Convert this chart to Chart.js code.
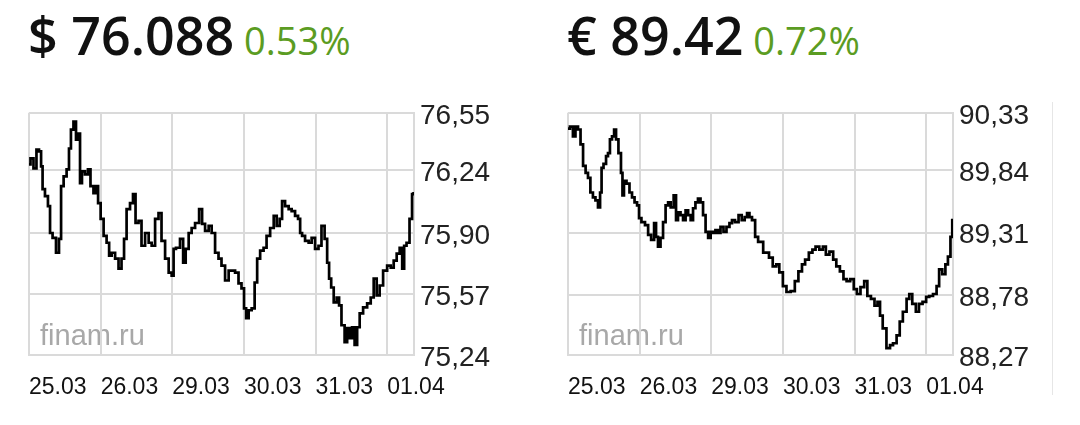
<!DOCTYPE html>
<html>
<head>
<meta charset="utf-8">
<script src="https://cdn.jsdelivr.net/npm/chart.js@4.4.1/dist/chart.umd.min.js"></script>
<style>
    body { margin: 0; background: #fff; width: 1080px; height: 425px; overflow: hidden; position: relative; }
    .head { position: absolute; top: 9px; font-family: 'Open Sans', sans-serif; font-size: 52px; line-height: 52px; font-weight: 600; color: #111; white-space: pre; }
    .head .chg { font-size: 38px; font-weight: 400; color: #5b9c22; }
    .box { position: absolute; top: 90px; width: 500px; height: 320px; }
    .sep { position: absolute; left: 1052px; top: 102px; width: 1px; height: 293px; background: #e6e6e6; }
</style>
</head>
<body>
<div class="head" style="left:28px">$ 76.088<span class="chg"> 0.53%</span></div>
<div class="head" style="left:567px">€ 89.42<span class="chg"> 0.72%</span></div>
<div class="box" style="left:0px"><canvas id="usdChart" width="500" height="320"></canvas></div>
<div class="box" style="left:539px"><canvas id="eurChart" width="500" height="320"></canvas></div>
<div class="sep"></div>
<script>
// hours since the start of 25.03 and quotes
var dayTicks = [0, 24, 48, 72, 96, 120];
var dayLabels = ['25.03', '26.03', '29.03', '30.03', '31.03', '01.04'];

var usdTicks = [75.24, 75.57, 75.90, 76.24, 76.55];
var eurTicks = [88.27, 88.78, 89.31, 89.84, 90.33];

var usdHours = [0, 1.0, 2.0, 3.0, 3.7, 4.4, 4.7, 6.0, 6.7, 7.4,
    8.4, 9.7, 10.4, 11.1, 12.1, 13.1, 13.7, 14.4, 15.4, 16.1,
    16.8, 17.4, 18.1, 19.4, 20.1, 21.1, 22.1, 22.8, 23.5, 24.5,
    25.5, 26.5, 27.2, 28.2, 29.5, 30.5, 31.5, 32.2, 33.2, 34.5,
    35.2, 36.2, 37.2, 38.2, 39.6, 40.6, 41.6, 42.9, 43.9, 44.9,
    46.3, 47.3, 48.3, 48.6, 49.9, 51.3, 52.0, 53.0, 54.0, 55.0,
    56.3, 57.7, 58.3, 59.7, 60.7, 61.7, 63.0, 64.0, 65.0, 66.4,
    67.4, 68.4, 69.7, 70.7, 71.7, 72.4, 73.1, 74.1, 75.1, 76.1,
    76.8, 78.1, 79.1, 80.1, 81.5, 82.5, 83.5, 84.5, 85.1, 86.5,
    87.5, 88.5, 89.8, 90.5, 91.2, 91.8, 93.2, 94.2, 95.2, 96.5,
    97.5, 98.5, 99.6, 100.2, 100.9, 101.6, 102.6, 103.6, 104.2, 105.2,
    106.3, 106.9, 107.9, 108.6, 109.6, 110.3, 111.3, 112.6, 114.0, 115.0,
    116.0, 117.0, 118.0, 119.3, 120.7, 121.7, 122.7, 123.7, 124.7, 125.4,
    126.0, 127.0, 128.0, 128.7, 129];
var usdRub = [76.271, 76.303, 76.249, 76.351, 76.341, 76.260, 76.137, 76.099, 76.045, 75.900,
    75.873, 75.793, 75.868, 76.153, 76.206, 76.244, 76.357, 76.459, 76.502, 76.405,
    76.437, 76.169, 76.233, 76.217, 76.244, 76.153, 76.115, 76.153, 76.061, 75.976,
    75.884, 75.847, 75.777, 75.793, 75.761, 75.707, 75.761, 75.868, 76.029, 76.061,
    76.110, 75.954, 75.965, 75.831, 75.900, 75.847, 75.831, 75.976, 76.008, 75.857,
    75.761, 75.686, 75.669, 75.814, 75.820, 75.868, 75.739, 75.814, 75.900, 75.927,
    75.954, 76.029, 75.949, 75.911, 75.938, 75.900, 75.793, 75.761, 75.723, 75.643,
    75.696, 75.696, 75.686, 75.627, 75.600, 75.492, 75.439, 75.482, 75.492, 75.632,
    75.761, 75.804, 75.820, 75.884, 75.927, 75.992, 75.938, 75.976, 76.072, 76.045,
    76.029, 76.018, 75.992, 75.976, 75.900, 75.884, 75.857, 75.847, 75.873, 75.814,
    75.831, 75.938, 75.868, 75.739, 75.653, 75.605, 75.525, 75.551, 75.508, 75.401,
    75.310, 75.385, 75.331, 75.390, 75.294, 75.390, 75.465, 75.498, 75.519, 75.551,
    75.653, 75.562, 75.616, 75.696, 75.723, 75.712, 75.750, 75.788, 75.820, 75.707,
    75.831, 75.847, 75.976, 76.110, 76.115];

var eurHours = [0, 1.3, 2.0, 3.0, 3.7, 4.7, 5.4, 6.4, 7.0, 8.0,
    8.7, 9.7, 10.4, 11.1, 11.4, 12.4, 13.1, 13.7, 14.4, 15.1,
    15.8, 16.4, 17.4, 18.1, 18.4, 19.1, 20.1, 21.1, 21.8, 22.8,
    23.5, 24.1, 25.1, 26.5, 27.2, 28.5, 29.2, 29.8, 30.5, 31.5,
    32.2, 33.2, 33.9, 34.9, 35.9, 36.5, 37.2, 38.2, 38.9, 39.9,
    40.6, 41.6, 42.2, 43.2, 43.9, 44.9, 45.6, 46.6, 47.3, 48.3,
    48.9, 49.9, 50.6, 51.6, 52.6, 53.6, 54.6, 55.3, 56.6, 57.7,
    58.7, 59.7, 60.3, 61.3, 62.0, 63.4, 64.0,
    66.8, 67.9, 69.3, 70.3, 71.3, 72.7, 73.7, 75.5, 76.5, 77.9,
    78.9, 80.0, 81.4, 82.4, 83.5, 84.9, 85.9, 86.9, 88.3, 89.4,
    90.4, 91.8, 92.8, 93.9, 95.2, 96.3, 97.3, 98.7, 99.8, 100.8,
    102.2, 103.2, 104.2, 104.9, 106.0, 107.4, 108.4, 109.4, 110.8, 111.5,
    112.9, 114.0, 114.7, 116.0, 117.1, 118.1, 119.5, 120.5, 121.6, 123.0,
    124.0, 124.7, 126.1, 126.8, 127.8, 128.5, 129];
var eurRub = [90.196, 90.213, 90.129, 90.213, 90.188, 90.062, 89.878, 89.819, 89.777, 89.652,
    89.610, 89.585, 89.526, 89.652, 89.861, 89.895, 89.962, 89.987, 90.104, 90.129,
    90.188, 90.104, 89.987, 89.819, 89.627, 89.752, 89.727, 89.652, 89.610, 89.568,
    89.543, 89.434, 89.400, 89.375, 89.292, 89.250, 89.392, 89.275, 89.191, 89.267,
    89.400, 89.543, 89.568, 89.526, 89.627, 89.417, 89.484, 89.459, 89.417, 89.501,
    89.459, 89.417, 89.518, 89.568, 89.601, 89.568, 89.459, 89.317, 89.267, 89.317,
    89.308, 89.333, 89.308, 89.359, 89.317, 89.359, 89.392, 89.417, 89.400, 89.459,
    89.417, 89.442, 89.476, 89.442, 89.417, 89.275, 89.233,
    89.141, 89.099, 89.024, 89.040, 88.973, 88.856, 88.806, 88.814, 88.898, 88.982,
    89.040, 89.082, 89.141, 89.166, 89.191, 89.166, 89.191, 89.124, 89.149, 89.082,
    89.024, 88.982, 88.915, 88.898, 88.915, 88.831, 88.789, 88.848, 88.898, 88.772,
    88.747, 88.689, 88.722, 88.605, 88.496, 88.329, 88.354, 88.370, 88.437, 88.555,
    88.638, 88.747, 88.789, 88.705, 88.638, 88.705, 88.722, 88.764, 88.772, 88.789,
    88.856, 88.999, 88.957, 89.040, 89.107, 89.275, 89.417];

var gridColor = '#dadada';

// "finam.ru" mark in the lower left corner, drawn under the grid
var watermark = {
    id: 'watermark',
    beforeDraw: function(chart) {
        var ctx = chart.ctx;
        var area = chart.chartArea;
        ctx.save();
        ctx.font = '29px "Liberation Sans", Arial, sans-serif';
        ctx.fillStyle = '#a8a8a8';
        ctx.textBaseline = 'alphabetic';
        ctx.fillText('finam.ru', area.left + 11, area.bottom - 10);
        ctx.restore();
    }
};

function makeChart(id, hours, values, ticks) {
    var points = hours.map(function(h, i) { return { x: h, y: values[i] }; });
    return new Chart(document.getElementById(id).getContext('2d'), {
        type: 'line',
        data: {
            datasets: [{
                data: points,
                borderColor: '#000',
                borderWidth: 2.7,
                pointRadius: 0,
                stepped: 'middle',
                fill: false
            }]
        },
        options: {
            responsive: false,
            animation: false,
            events: [],
            layout: { padding: { left: 29, top: 21, right: 0, bottom: 0 } },
            plugins: { legend: { display: false }, tooltip: { enabled: false } },
            scales: {
                x: {
                    type: 'linear',
                    min: 0,
                    max: 129,
                    afterBuildTicks: function(s) { s.ticks = dayTicks.map(function(v) { return { value: v }; }); },
                    afterFit: function(s) { s.height = 55; },
                    grid: { color: gridColor, lineWidth: 2, drawTicks: false },
                    border: { color: gridColor, width: 2 },
                    ticks: {
                        align: 'start',
                        padding: 19,
                        maxRotation: 0,
                        autoSkip: false,
                        color: '#111',
                        font: { family: '"Liberation Sans", Arial, sans-serif', size: 23 },
                        callback: function(v, i) { return dayLabels[i]; }
                    }
                },
                y: {
                    position: 'right',
                    min: ticks[0],
                    max: ticks[ticks.length - 1],
                    afterBuildTicks: function(s) { s.ticks = ticks.map(function(v) { return { value: v }; }); },
                    afterFit: function(s) { s.width = 86; },
                    grid: { color: gridColor, lineWidth: 2, drawTicks: false },
                    border: { color: gridColor, width: 2 },
                    ticks: {
                        padding: 6,
                        labelOffset: 3,
                        color: '#222',
                        font: { family: '"Liberation Sans", Arial, sans-serif', size: 28 },
                        callback: function(v) { return v.toFixed(2).replace('.', ','); }
                    }
                }
            }
        },
        plugins: [watermark]
    });
}

document.addEventListener('DOMContentLoaded', function() {
    makeChart('usdChart', usdHours, usdRub, usdTicks);
    makeChart('eurChart', eurHours, eurRub, eurTicks);
});
</script>
</body>
</html>
